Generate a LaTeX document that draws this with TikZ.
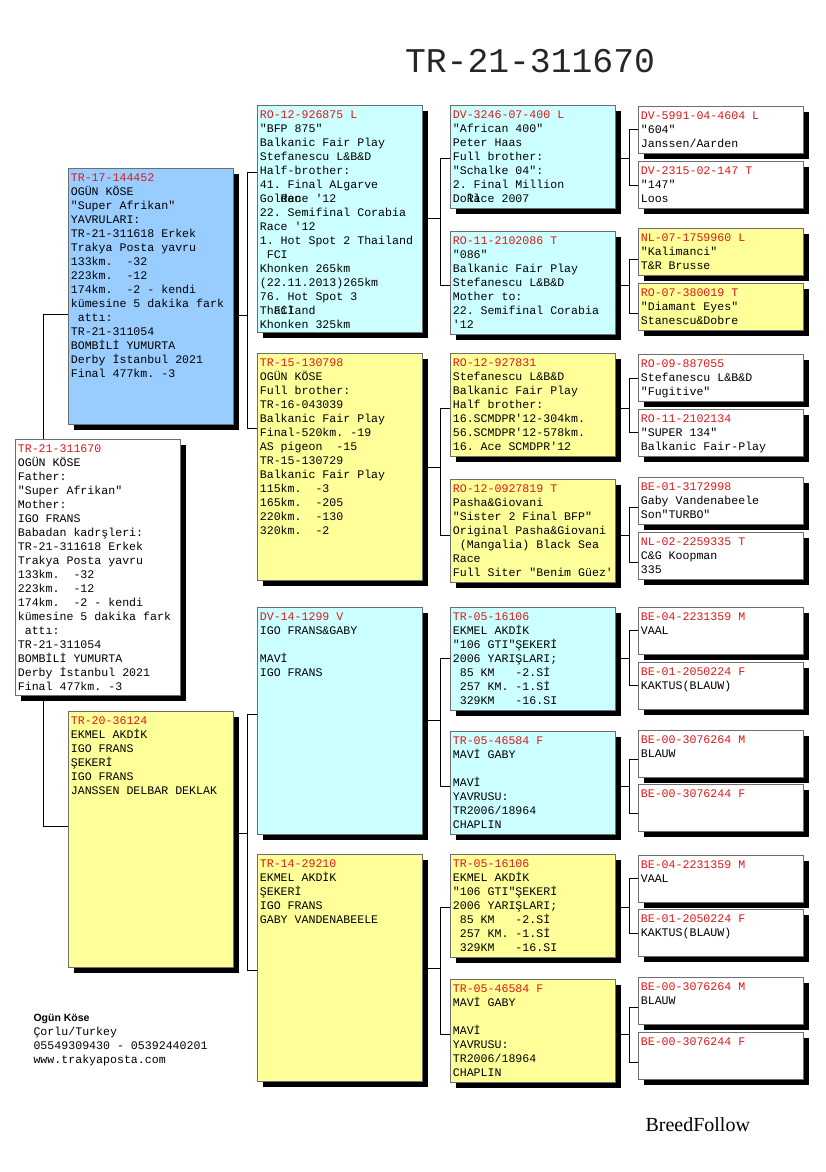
\documentclass[tikz,border=0pt]{standalone}
\usepackage{fontspec}
\usetikzlibrary{shadows}

\newfontfamily\pedfont{Liberation Mono}[Ligatures=TeXOff]
\newfontfamily\pedsans{Liberation Sans}
\newfontfamily\pedserif{Liberation Serif}

\definecolor{pedred}{RGB}{220,25,25}
\definecolor{pedblue}{RGB}{153,204,255}
\definecolor{pedcyan}{RGB}{204,255,255}
\definecolor{pedyellow}{RGB}{255,255,153}
\definecolor{pedgray}{RGB}{110,110,110}

% ring number on the first line; also gives back the font's own spaces
\newcommand\ringno[1]{\spaceskip=0pt\xspaceskip=0pt\relax\textcolor{pedred}{#1}}
\newcommand\lsp{\mbox{}\ }

\begin{document}
\begin{tikzpicture}[x=1pt, y=1pt,
	pbox/.style={draw=pedgray, line width=0.7pt, fill=white, anchor=north west,
		inner xsep=2.5pt, inner ysep=2pt, text width=160pt, align=left,
		text height=11.5pt, font=\pedfont\fontsize{11.6}{14}\selectfont\frenchspacing,
		drop shadow={shadow xshift=6pt, shadow yshift=-6pt, opacity=1, fill=black}},
	gen1/.style={pbox, text depth=240.5pt},
	gen2/.style={pbox, text depth=211.5pt},
	gen3/.style={pbox, text depth=87.5pt},
	gen4/.style={pbox, text depth=31.5pt},
	wire/.style={line width=0.8pt}]
	\path[use as bounding box, fill=white] (0,0) rectangle (825,-1172);

	\node[anchor=base, font=\pedfont\fontsize{34.7}{40}\selectfont, text=black!85] (title) at (530,-73) {TR-21-311670};

	% fourth generation
	\node[gen4] (ffff) at (638,-106) {\ringno{DV-5991-04-4604 L}\\"604"\\Janssen/Aarden};
	\node[gen4] (fffm) at (638,-161) {\ringno{DV-2315-02-147 T}\\"147"\\Loos};
	\node[gen4, fill=pedyellow] (ffmf) at (638,-228) {\ringno{NL-07-1759960 L}\\"Kalimanci"\\T\&R Brusse};
	\node[gen4, fill=pedyellow] (ffmm) at (638,-283) {\ringno{RO-07-380019 T}\\"Diamant Eyes"\\Stanescu\&Dobre};
	\node[gen4] (fmff) at (638,-354) {\ringno{RO-09-887055}\\Stefanescu L\&B\&D\\"Fugitive"};
	\node[gen4] (fmfm) at (638,-409) {\ringno{RO-11-2102134}\\"SUPER 134"\\Balkanic Fair-Play};
	\node[gen4] (fmmf) at (638,-477) {\ringno{BE-01-3172998}\\Gaby Vandenabeele\\Son"TURBO"};
	\node[gen4] (fmmm) at (638,-532) {\ringno{NL-02-2259335 T}\\C\&G Koopman\\335};
	\node[gen4] (mfff) at (638,-607) {\ringno{BE-04-2231359 M}\\VAAL};
	\node[gen4] (mffm) at (638,-662) {\ringno{BE-01-2050224 F}\\KAKTUS(BLAUW)};
	\node[gen4] (mfmf) at (638,-730) {\ringno{BE-00-3076264 M}\\BLAUW};
	\node[gen4] (mfmm) at (638,-784) {\ringno{BE-00-3076244 F}};
	\node[gen4] (mmff) at (638,-855) {\ringno{BE-04-2231359 M}\\VAAL};
	\node[gen4] (mmfm) at (638,-909) {\ringno{BE-01-2050224 F}\\KAKTUS(BLAUW)};
	\node[gen4] (mmmf) at (638,-977) {\ringno{BE-00-3076264 M}\\BLAUW};
	\node[gen4] (mmmm) at (638,-1032) {\ringno{BE-00-3076244 F}};

	% third generation
	\node[gen3, fill=pedcyan] (fff) at (450,-105) {\ringno{DV-3246-07-400 L}\\"African 400"\\Peter Haas\\Full brother:\\"Schalke 04":\\2. Final Million\\Do\rlap{ll}Race 2007};
	\node[gen3, fill=pedcyan] (ffm) at (450,-231) {\ringno{RO-11-2102086 T}\\"086"\\Balkanic Fair Play\\Stefanescu L\&B\&D\\Mother to:\\22. Semifinal Corabia\\'12};
	\node[gen3, fill=pedyellow] (fmf) at (450,-353) {\ringno{RO-12-927831}\\Stefanescu L\&B\&D\\Balkanic Fair Play\\Half brother:\\16.SCMDPR'12-304km.\\56.SCMDPR'12-578km.\\16. Ace SCMDPR'12};
	\node[gen3, fill=pedyellow] (fmm) at (450,-479) {\ringno{RO-12-0927819 T}\\Pasha\&Giovani\\"Sister 2 Final BFP"\\Original Pasha\&Giovani\\\lsp(Mangalia) Black Sea\\Race\\\mbox{Full Siter "Benim Güez'}};
	\node[gen3, fill=pedcyan] (mff) at (450,-607) {\ringno{TR-05-16106}\\EKMEL AKDİK\\"106 GTI"ŞEKERİ\\2006 YARIŞLARI;\\\lsp85 KM\ \ \ -2.Sİ\\\lsp257 KM. -1.Sİ\\\lsp329KM\ \ \ -16.SI};
	\node[gen3, fill=pedcyan] (mfm) at (450,-731) {\ringno{TR-05-46584 F}\\MAVİ GABY\\\mbox{}\\MAVİ\\YAVRUSU:\\TR2006/18964\\CHAPLIN};
	\node[gen3, fill=pedyellow] (mmf) at (450,-854) {\ringno{TR-05-16106}\\EKMEL AKDİK\\"106 GTI"ŞEKERİ\\2006 YARIŞLARI;\\\lsp85 KM\ \ \ -2.Sİ\\\lsp257 KM. -1.Sİ\\\lsp329KM\ \ \ -16.SI};
	\node[gen3, fill=pedyellow] (mmm) at (450,-979) {\ringno{TR-05-46584 F}\\MAVİ GABY\\\mbox{}\\MAVİ\\YAVRUSU:\\TR2006/18964\\CHAPLIN};

	% second generation
	\node[gen2, fill=pedcyan] (ff) at (257,-105) {\ringno{RO-12-926875 L}\\"BFP 875"\\Balkanic Fair Play\\Stefanescu L\&B\&D\\Half-brother:\\41. Final ALgarve\\Gol\rlap{den}Race '12\\22. Semifinal Corabia\\Race '12\\1. Hot Spot 2 Thailand\\\lsp FCI\\Khonken 265km\\(22.11.2013)265km\\76. Hot Spot 3\\Th\rlap{ailand}FCI\\Khonken 325km};
	\node[gen2, fill=pedyellow] (fm) at (257,-353) {\ringno{TR-15-130798}\\OGÜN KÖSE\\Full brother:\\TR-16-043039\\Balkanic Fair Play\\Final-520km. -19\\AS pigeon\ \ -15\\TR-15-130729\\Balkanic Fair Play\\115km.\ \ -3\\165km.\ \ -205\\220km.\ \ -130\\320km.\ \ -2};
	\node[gen2, fill=pedcyan] (mf) at (257,-607) {\ringno{DV-14-1299 V}\\IGO FRANS\&GABY\\\mbox{}\\MAVİ\\IGO FRANS};
	\node[gen2, fill=pedyellow] (mm) at (257,-854) {\ringno{TR-14-29210}\\EKMEL AKDİK\\ŞEKERİ\\IGO FRANS\\GABY VANDENABEELE};

	% parents
	\node[gen1, fill=pedblue] (fa) at (68,-168) {\ringno{TR-17-144452}\\OGÜN KÖSE\\"Super Afrikan"\\YAVRULARI:\\TR-21-311618 Erkek\\Trakya Posta yavru\\133km.\ \ -32\\223km.\ \ -12\\174km.\ \ -2 - kendi\\kümesine 5 dakika fark\\\lsp attı:\\TR-21-311054\\BOMBİLİ YUMURTA\\Derby İstanbul 2021\\Final 477km. -3};
	\node[gen1, fill=pedyellow] (mo) at (68,-711) {\ringno{TR-20-36124}\\EKMEL AKDİK\\IGO FRANS\\ŞEKERİ\\IGO FRANS\\JANSSEN DELBAR DEKLAK};

	% connectors
	\draw[wire] ([yshift=-146]fa.north west) -- ++(-25,0) |- ([yshift=-115]mo.north west);
	\draw[wire] ([yshift=-147]fa.north east) -- ++(14,0);
	\draw[wire] ([yshift=-67]ff.north west) -- ++(-10,0) |- ([yshift=-75]fm.north west);
	\draw[wire] ([yshift=-122]mo.north east) -- ++(14,0);
	\draw[wire] ([yshift=-107]mf.north west) -- ++(-10,0) |- ([yshift=-116]mm.north west);

	\draw[wire] ([yshift=-113]ff.north east) -- ++(18,0);
	\draw[wire] ([yshift=-53]fff.north west) -- ++(-10,0) |- ([yshift=-54]ffm.north west);
	\draw[wire] ([yshift=-114]fm.north east) -- ++(18,0);
	\draw[wire] ([yshift=-55]fmf.north west) -- ++(-10,0) |- ([yshift=-56]fmm.north west);
	\draw[wire] ([yshift=-113]mf.north east) -- ++(18,0);
	\draw[wire] ([yshift=-51]mff.north west) -- ++(-10,0) |- ([yshift=-55]mfm.north west);
	\draw[wire] ([yshift=-114]mm.north east) -- ++(18,0);
	\draw[wire] ([yshift=-53]mmf.north west) -- ++(-10,0) |- ([yshift=-55]mmm.north west);

	\draw[wire] ([yshift=-53]fff.north east) -- ++(14,0);
	\draw[wire] ([yshift=-23]ffff.north west) -- ++(-9,0) |- ([yshift=-24]fffm.north west);
	\draw[wire] ([yshift=-54]ffm.north east) -- ++(14,0);
	\draw[wire] ([yshift=-31]ffmf.north west) -- ++(-9,0) |- ([yshift=-30]ffmm.north west);
	\draw[wire] ([yshift=-55]fmf.north east) -- ++(14,0);
	\draw[wire] ([yshift=-24]fmff.north west) -- ++(-9,0) |- ([yshift=-23]fmfm.north west);
	\draw[wire] ([yshift=-56]fmm.north east) -- ++(14,0);
	\draw[wire] ([yshift=-30]fmmf.north west) -- ++(-9,0) |- ([yshift=-30]fmmm.north west);
	\draw[wire] ([yshift=-51]mff.north east) -- ++(14,0);
	\draw[wire] ([yshift=-23]mfff.north west) -- ++(-9,0) |- ([yshift=-23]mffm.north west);
	\draw[wire] ([yshift=-55]mfm.north east) -- ++(14,0);
	\draw[wire] ([yshift=-29]mfmf.north west) -- ++(-9,0) |- ([yshift=-29]mfmm.north west);
	\draw[wire] ([yshift=-53]mmf.north east) -- ++(14,0);
	\draw[wire] ([yshift=-23]mmff.north west) -- ++(-9,0) |- ([yshift=-24]mmfm.north west);
	\draw[wire] ([yshift=-55]mmm.north east) -- ++(14,0);
	\draw[wire] ([yshift=-30]mmmf.north west) -- ++(-9,0) |- ([yshift=-30]mmmm.north west);

	% subject on top of the parents' line
	\node[gen1] (sub) at (15,-439) {\ringno{TR-21-311670}\\OGÜN KÖSE\\Father:\\"Super Afrikan"\\Mother:\\IGO FRANS\\Babadan kadrşleri:\\TR-21-311618 Erkek\\Trakya Posta yavru\\133km.\ \ -32\\223km.\ \ -12\\174km.\ \ -2 - kendi\\kümesine 5 dakika fark\\\lsp attı:\\TR-21-311054\\BOMBİLİ YUMURTA\\Derby İstanbul 2021\\Final 477km. -3};

	% footer
	\node[anchor=base west, font=\pedsans\bfseries\fontsize{10.5}{14}\selectfont] (owner) at (30,-1021) {Ogün Köse};
	\node[anchor=base west, font=\pedfont\fontsize{11.6}{14}\selectfont] (town) at (30,-1035) {Çorlu/Turkey};
	\node[anchor=base west, font=\pedfont\fontsize{11.6}{14}\selectfont] (phone) at (30,-1049) {05549309430 - 05392440201};
	\node[anchor=base west, font=\pedfont\fontsize{11.6}{14}\selectfont] (web) at (30,-1063) {www.trakyaposta.com};
	\node[anchor=base west, font=\pedserif\fontsize{20}{24}\selectfont] (brand) at (642,-1131) {BreedFollow};
\end{tikzpicture}
\end{document}
